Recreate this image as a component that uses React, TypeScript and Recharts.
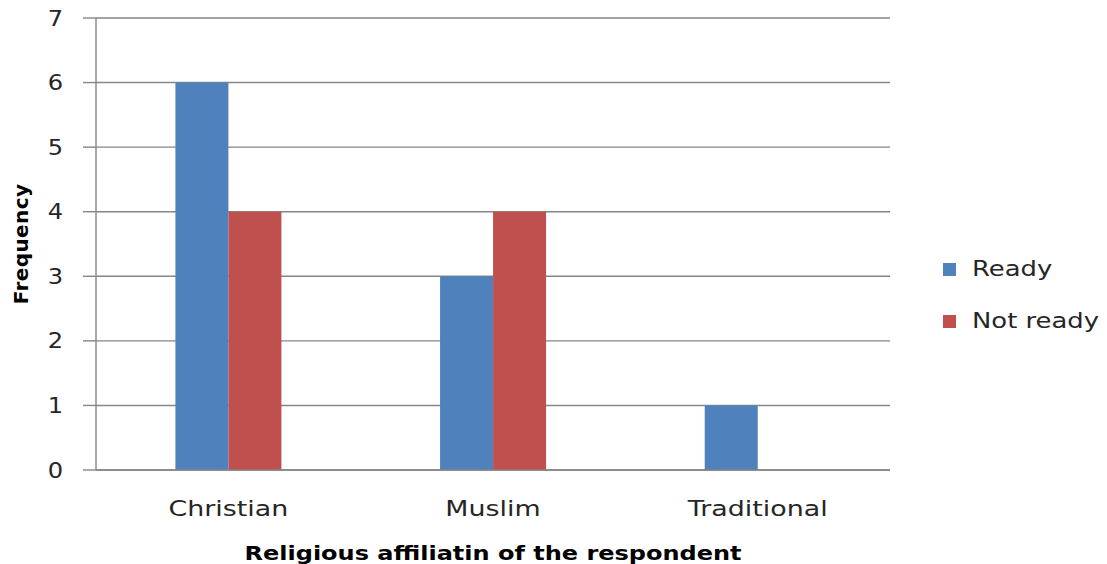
import React from 'react';
import {BarChart, Bar, XAxis, YAxis, CartesianGrid, Legend} from 'recharts';

const categories = ['Christian', 'Muslim', 'Traditional'];
const ready = [6, 3, 1];
const notReady = [4, 4, 0];
const yTicks = [0, 1, 2, 3, 4, 5, 6, 7];
const seriesOrder = ['Ready', 'Not ready'];

const data = categories.map((name, i) => ({name, ready: ready[i], notReady: notReady[i]}));

const font = 'DejaVu Sans';
const axisColor = '#868686';
const textColor = '#262626';

// the labels are drawn a bit wider than the font's natural width
const XTick = ({x, y, payload}: any) => (
  <g transform={`translate(${x},${y}) scale(1.28,1)`}>
    <text x={0} y={0} dy={46} textAnchor="middle" fontFamily={font} fontSize={21} fill={textColor}>
      {payload.value}
    </text>
  </g>
);

const YTick = ({x, y, payload}: any) => (
  <g transform={`translate(${x},${y}) scale(1.15,1)`}>
    <text x={0} y={0} dy={7.5} textAnchor="end" fontFamily={font} fontSize={21} fill={textColor}>
      {payload.value}
    </text>
  </g>
);

const YTitle = ({viewBox}: any) => {
  const cy = viewBox.y + viewBox.height / 2;
  return (
    <text x={21} y={cy} transform={`rotate(-90, 21, ${cy})`} textAnchor="middle" dominantBaseline="central"
      fontFamily={font} fontWeight="bold" fontSize={20} letterSpacing={0.4} fill="#000">
      Frequency
    </text>
  );
};

const XTitle = ({viewBox}: any) => (
  <g transform={`translate(${viewBox.x + viewBox.width / 2},560) scale(1.2,1)`}>
    <text x={0} y={0} textAnchor="middle" fontFamily={font} fontWeight="bold" fontSize={20} fill="#000">
      Religious affiliatin of the respondent
    </text>
  </g>
);

const LegendBox = ({payload}: any) => {
  const items = [...(payload || [])].sort((a: any, b: any) => seriesOrder.indexOf(a.value) - seriesOrder.indexOf(b.value));
  return (
    <div style={{fontFamily: font, fontSize: 21, color: textColor}}>
      {items.map((p: any) => (
        <div key={p.value} style={{display: 'flex', alignItems: 'center', height: 52, whiteSpace: 'nowrap'}}>
          <span style={{width: 13, height: 13, background: p.color, marginRight: 16, display: 'inline-block', flexShrink: 0}} />
          <span style={{display: 'inline-block', transform: 'scaleX(1.23)', transformOrigin: 'left center'}}>{p.value}</span>
        </div>
      ))}
    </div>
  );
};

export default function App() {
  return (
    <div style={{position: 'absolute', left: 0, top: 0}}>
      <BarChart width={1107} height={564} data={data} margin={{top: 18, right: 217, bottom: 0, left: 0}}
        barCategoryGap="30%" barGap={0}>
        <CartesianGrid vertical={false} stroke={axisColor} strokeWidth={1.4} />
        <XAxis dataKey="name" height={94} tickLine={false} tickSize={0} tickMargin={0}
          axisLine={{stroke: axisColor, strokeWidth: 1.4}} tick={<XTick />} label={<XTitle />} />
        <YAxis width={96} domain={[0, 7]} ticks={yTicks} interval={0} tickSize={13} tickMargin={20}
          axisLine={{stroke: axisColor, strokeWidth: 1.4}} tickLine={{stroke: axisColor, strokeWidth: 1.4}}
          tick={<YTick />} label={<YTitle />} />
        <Legend layout="vertical" align="center" verticalAlign="middle" content={<LegendBox />}
          wrapperStyle={{left: 943, top: 243, width: 164}} />
        <Bar dataKey="ready" name="Ready" fill="#4F81BD" isAnimationActive={false} />
        <Bar dataKey="notReady" name="Not ready" fill="#C0504D" isAnimationActive={false} />
      </BarChart>
    </div>
  );
}
